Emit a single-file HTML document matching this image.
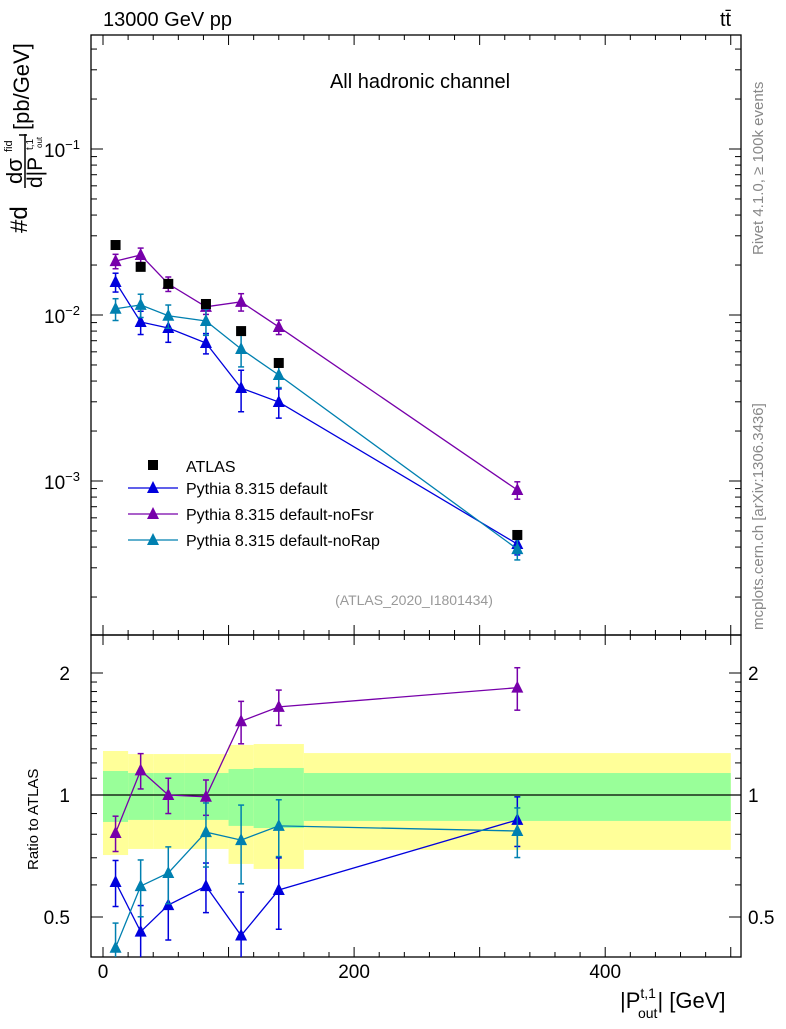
<!DOCTYPE html>
<html><head><meta charset="utf-8"><style>
body{margin:0;background:#fff}
svg text{font-family:"Liberation Sans",sans-serif}
</style></head><body>
<svg id="c" width="786" height="1024" xmlns="http://www.w3.org/2000/svg"></svg>
<script>
const xVals=[10,30,52,82,110,140,330];
const atlas=[0.0264,0.0195,0.0154,0.01165,0.0080,0.00514,0.000473];
const pyDef=[0.0158,0.00908,0.00835,0.00678,0.00363,0.00299,0.000417];
const pyNoFsr=[0.0211,0.0230,0.0154,0.0112,0.0120,0.00847,0.000883];
const pyNoRap=[0.0109,0.0115,0.0099,0.0092,0.00624,0.00435,0.000389];
const errDef=[0.13,0.16,0.18,0.14,0.28,0.2,0.14];
const errNoFsr=[0.1,0.1,0.1,0.1,0.12,0.1,0.12];
const errNoRap=[0.15,0.16,0.16,0.18,0.22,0.16,0.14];
const ratDef=[0.61,0.46,0.535,0.596,0.45,0.583,0.868];
const ratNoFsr=[0.806,1.15,1.0,0.99,1.52,1.65,1.84];
const ratNoRap=[0.42,0.596,0.642,0.81,0.774,0.839,0.815];
const binEdges=[0,20,40,65,100,120,160,500];
const yelHi=[1.284,1.262,1.262,1.262,1.329,1.336,1.269];
const yelLo=[0.711,0.736,0.736,0.736,0.676,0.657,0.732];
const grnHi=[1.146,1.133,1.133,1.133,1.159,1.166,1.133];
const grnLo=[0.858,0.868,0.868,0.868,0.839,0.829,0.863];
const xTicks=[0,200,400];
const mainDecades=[-1,-2,-3];
const ratioTicks=[0.5,1,2];

const L=91,R=741,T=35,M=635,B=957;
const sx=v=>103+v*1.2555;
const sy=v=>315-(Math.log10(v)+2)*166;
const sr=v=>795-Math.log2(v)*122;
const svg=document.getElementById('c');
const NS='http://www.w3.org/2000/svg';
function el(t,a,p){const e=document.createElementNS(NS,t);for(const k in a)e.setAttribute(k,a[k]);(p||svg).appendChild(e);return e;}
function txt(s,x,y,a,p){const e=el('text',Object.assign({x:x,y:y},a),p);e.textContent=s;return e;}

// bands
const bands=el('g',{});


for(let i=0;i<yelHi.length;i++){
  const x0=sx(binEdges[i]),x1=sx(binEdges[i+1]);
  const y=el('rect',{x:x0,y:sr(yelHi[i]),width:x1-x0,height:sr(yelLo[i])-sr(yelHi[i]),fill:'#ffff99'},bands);
  
  
  const g=el('rect',{x:x0,y:sr(grnHi[i]),width:x1-x0,height:sr(grnLo[i])-sr(grnHi[i]),fill:'#99ff99'},bands);
  
  
}
el('line',{x1:L,x2:R,y1:sr(1),y2:sr(1),stroke:'#000','stroke-width':1.3});

// frames
el('rect',{x:L,y:T,width:R-L,height:M-T,fill:'none',stroke:'#000','stroke-width':1.3});
el('rect',{x:L,y:M,width:R-L,height:B-M,fill:'none',stroke:'#000','stroke-width':1.3});

// x ticks
for(let v=0;v<=500;v+=20){
  const x=sx(v),len=v%100==0?10:5;
  for(const [y0,d] of [[T,1],[M,-1],[M,1],[B,-1]]) el('line',{x1:x,x2:x,y1:y0,y2:y0+d*len,stroke:'#000'});
}
xTicks.forEach(v=>{const t=txt(v,sx(v),978,{'font-size':19,'text-anchor':'middle'});

});
// main y ticks
for(let d=-4;d<=-1;d++){for(let m=1;m<10;m++){
  const v=m*Math.pow(10,d),y=sy(v);if(y<T||y>M)continue;
  const len=m==1?12:6;
  el('line',{x1:L,x2:L+len,y1:y,y2:y,stroke:'#000'});
  el('line',{x1:R,x2:R-len,y1:y,y2:y,stroke:'#000'});
}}
mainDecades.forEach(d=>{const y=sy(Math.pow(10,d));
const t=el('text',{x:80,y:y+8,'font-size':19,'text-anchor':'end'});


t.innerHTML='10<tspan dy="-8" font-size="13">\u2212'+(-d)+'</tspan>';});
// ratio ticks
[0.5,0.6,0.7,0.8,0.9,1,2].concat([1.1,1.2,1.3,1.4,1.5,1.6,1.7,1.8,1.9]).forEach(v=>{
  const y=sr(v),len=(v==0.5||v==1||v==2)?12:6;
  el('line',{x1:L,x2:L+len,y1:y,y2:y,stroke:'#000'});
  el('line',{x1:R,x2:R-len,y1:y,y2:y,stroke:'#000'});
});
ratioTicks.forEach(v=>{const y=sr(v)+7;
const a=txt(v,70,y,{'font-size':19,'text-anchor':'end'});


const b=txt(v,748,y,{'font-size':19});

});

// series
function tri(x,y,c,g){el('polygon',{points:`${x},${y-7} ${x-6},${y+5} ${x+6},${y+5}`,fill:c},g);}
function series(name,vals,err,rat,c){
  const g=el('g',{});
  
  
  el('polyline',{points:xVals.map((x,i)=>sx(x)+','+sy(vals[i])).join(' '),fill:'none',stroke:c,'stroke-width':1.3},g);
  el('polyline',{points:xVals.map((x,i)=>sx(x)+','+sr(rat[i])).join(' '),fill:'none',stroke:c,'stroke-width':1.3},g);
  xVals.forEach((xv,i)=>{
    const x=sx(xv);
    for(const [f,v] of [[sy,vals[i]],[sr,rat[i]]]){
      const y1=f(v*(1+err[i])),y2=f(v*(1-err[i]));
      el('line',{x1:x,x2:x,y1:y1,y2:Math.min(y2,B),stroke:c,'stroke-width':1.5},g);
      el('line',{x1:x-3,x2:x+3,y1:y1,y2:y1,stroke:c,'stroke-width':1.5},g);
      if(y2<B)el('line',{x1:x-3,x2:x+3,y1:y2,y2:y2,stroke:c,'stroke-width':1.5},g);
      const ty=f(v);if(ty<B)tri(x,ty,c,g);
    }
  });
}
series('pythia-default',pyDef,errDef,ratDef,'#0000dd');
series('pythia-nofsr',pyNoFsr,errNoFsr,ratNoFsr,'#7700aa');
series('pythia-norap',pyNoRap,errNoRap,ratNoRap,'#0080b0');
const ag=el('g',{});


xVals.forEach((x,i)=>el('rect',{x:sx(x)-5,y:sy(atlas[i])-5,width:10,height:10,fill:'#000'},ag));

// legend
const lg=el('g',{});


el('rect',{x:148,y:460,width:10,height:10,fill:'#000'},lg);
txt('ATLAS',186,472,{'font-size':16},lg);
[['Pythia 8.315 default','#0000dd',494],['Pythia 8.315 default-noFsr','#7700aa',520],['Pythia 8.315 default-noRap','#0080b0',546]].forEach(([s,c,y])=>{
  el('line',{x1:128,x2:178,y1:y-6,y2:y-6,stroke:c,'stroke-width':1.3},lg);tri(153,y-6,c,lg);
  txt(s,186,y,{'font-size':16},lg);
});

// labels
let t;
t=txt('13000 GeV pp',103,26,{'font-size':20});
t=txt('tt\u0304',720,26,{'font-size':20});
t=txt('All hadronic channel',420,88,{'font-size':20,'text-anchor':'middle'});
t=txt('(ATLAS_2020_I1801434)',414,605,{'font-size':14,'text-anchor':'middle',fill:'#999'});
t=txt('Rivet 4.1.0, \u2265 100k events',763,255,{'font-size':15,fill:'#888',transform:'rotate(-90 763 255)'});
t=txt('mcplots.cern.ch [arXiv:1306.3436]',763,630,{'font-size':15,fill:'#888',transform:'rotate(-90 763 630)'});
t=txt('Ratio to ATLAS',38,870,{'font-size':15,transform:'rotate(-90 38 870)'});

// y-axis title (rotated group)
const yt=el('g',{transform:'translate(0,240) rotate(-90)'});


txt('#d',7,27,{'font-size':24},yt);
txt('d\u03c3',56,22,{'font-size':22},yt);
txt('fid',88,12,{'font-size':11},yt);
el('line',{x1:52,x2:106,y1:25,y2:25,stroke:'#000','stroke-width':1.5},yt);
el('line',{x1:105,x2:105,y1:19,y2:27,stroke:'#000','stroke-width':1.5},yt);
txt('d|P',52,42,{'font-size':21},yt);
txt('t,1',90,33,{'font-size':10},yt);
txt('out',92,42,{'font-size':8},yt);
txt('[pb/GeV]',110,29,{'font-size':22},yt);

t=el('text',{x:620,y:1008,'font-size':22});
t.innerHTML='|P<tspan font-size="14" dy="-10">t,1</tspan><tspan font-size="14" dy="20" dx="-18">out</tspan><tspan dy="-10">| [GeV]</tspan>';

</script>
</body></html>
